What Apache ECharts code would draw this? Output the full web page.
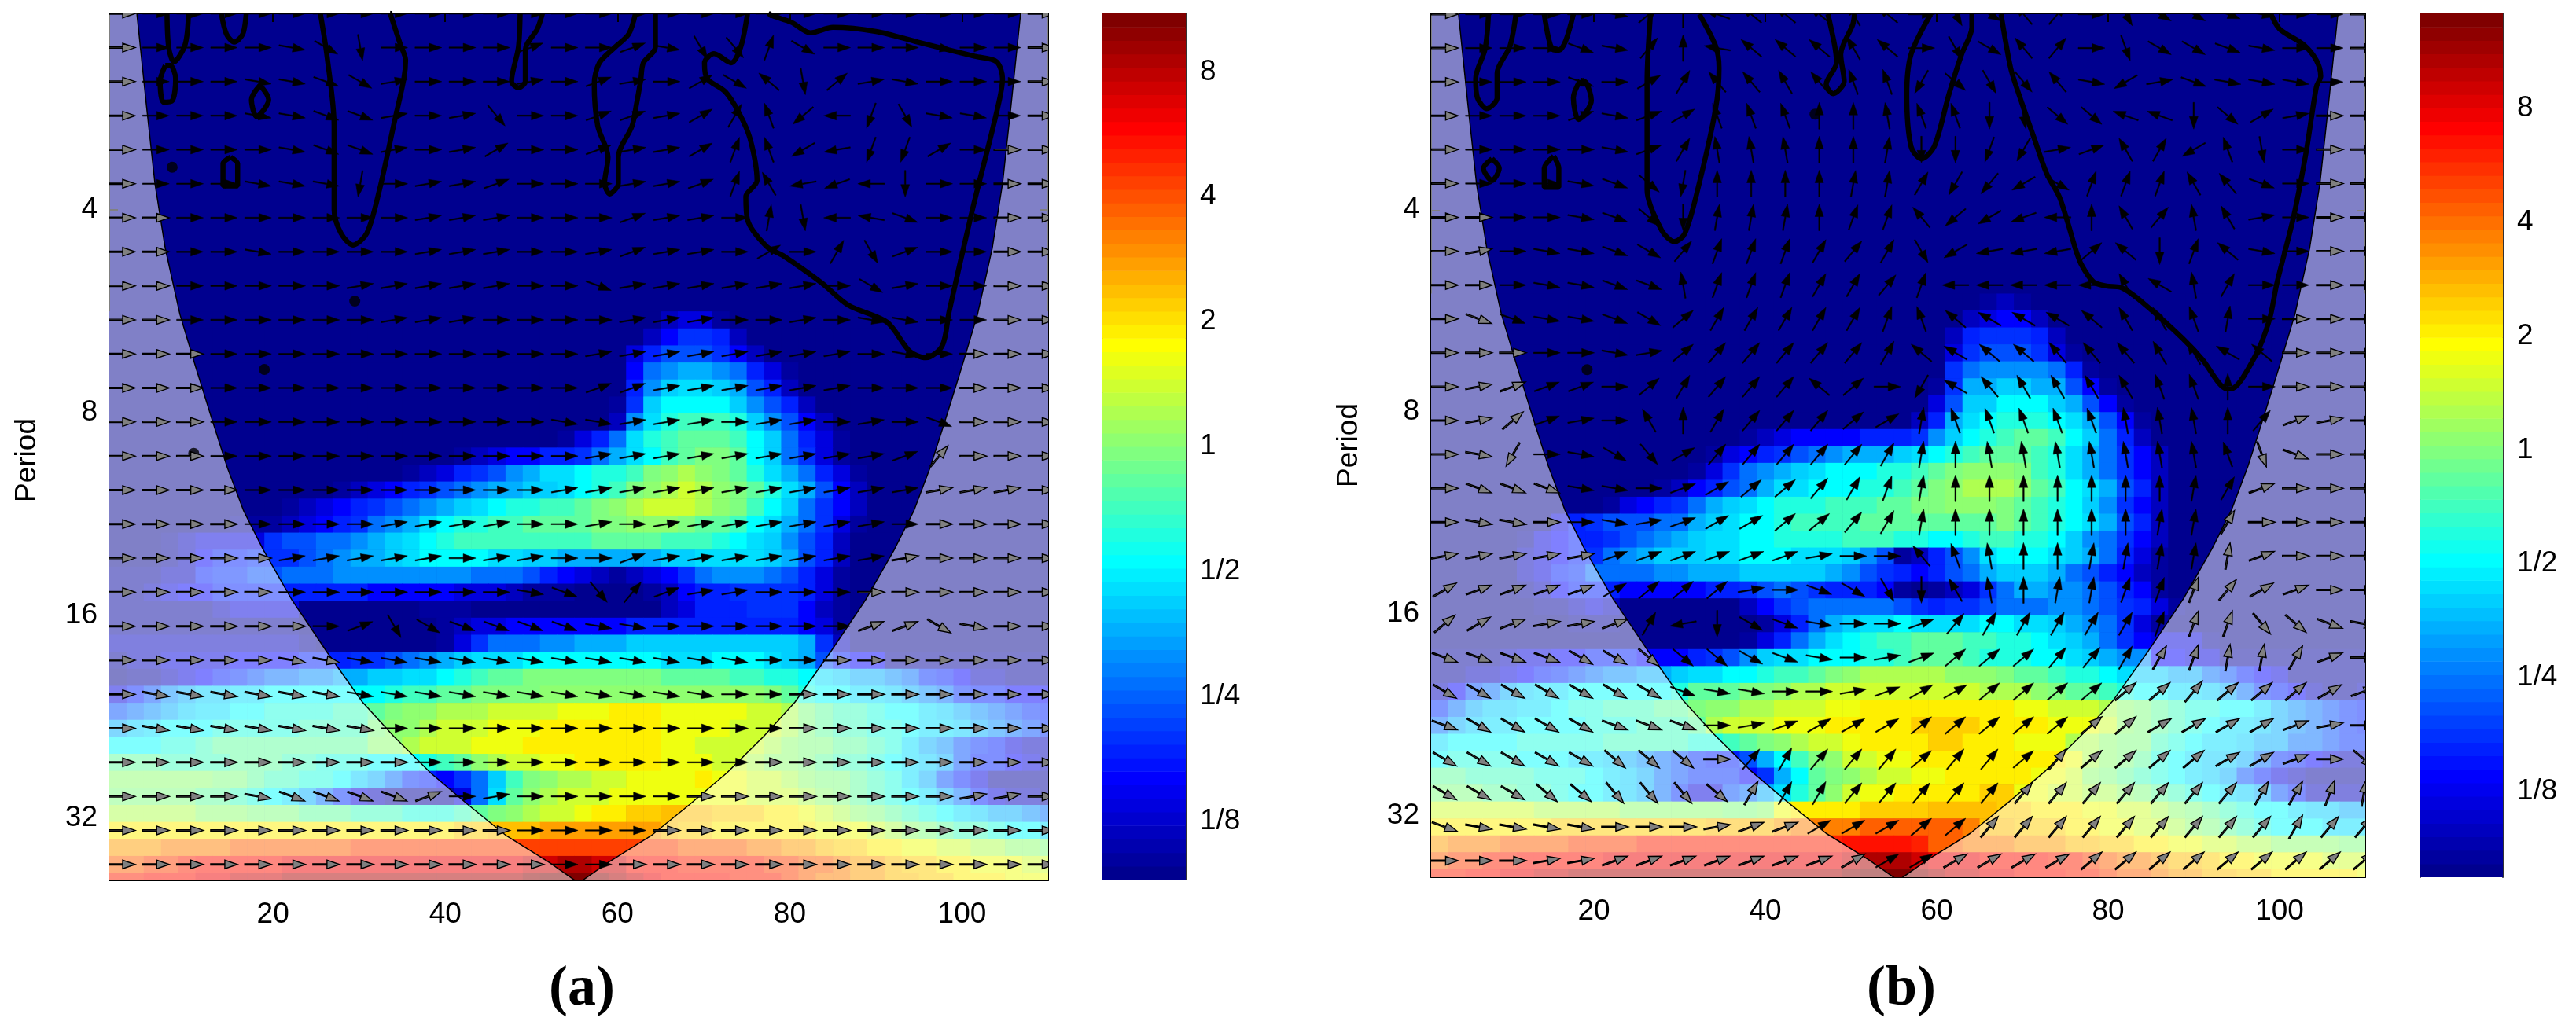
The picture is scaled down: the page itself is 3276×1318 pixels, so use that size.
<!DOCTYPE html>
<html><head><meta charset="utf-8"><style>html,body{margin:0;background:#fff}#c{width:3276px;height:1318px}</style>
<script src="https://cdn.jsdelivr.net/npm/echarts@6/dist/echarts.min.js"></script></head><body><div id="c"></div><script>
// tick labels
var xTicks=[20,40,60,80,100];
var yTickOct=[2,3,4,5], yTickLabels=['4','8','16','32'];
var cbTicks=[3,2,1,0,-1,-2,-3], cbLabels=['8','4','2','1','1/2','1/4','1/8'];
// colour range of each panel (log2 of power)
var rangeA=[-3.468,3.468], rangeB=[-3.75,3.83];
// power, per row, per 2 time units: one char = position on the colour bar in 35ths (0-9a-z)
var heatStartA=18, heatA=[
"00000 00000 00000 00000 00000 00000 00233 10000 00000 00000 00000",
"00000 00000 00000 00000 00000 00000 02466 52000 00000 00000 00000",
"00000 00000 00000 00000 00000 00000 35777 64200 00000 00000 00000",
"00000 00000 00000 00000 00000 00000 489aa 98531 00000 00000 00000",
"00000 00000 00000 00000 00000 00000 59bcc ba752 00000 00000 00000",
"00000 00000 00000 00000 00000 00001 6bddd db975 20000 00000 00000",
"00000 00000 00000 00000 00000 00002 9ceff feb97 42000 00000 00000",
"00000 00000 00000 00000 00000 01358 cefgg gfdb8 53100 00000 00000",
"00000 00000 00000 00000 12344 5568a cdfgh hgdb8 63100 00000 00000",
"00000 00000 00000 00123 5679a ccdee fhiji hgeca 85310 00000 00000",
"00000 00000 00012 34567 89aab bcdef hijkj ihgec a7420 00000 00000",
"00000 00000 12345 6789a bcdee ffghi jkkkj ihfdb 86420 00000 00000",
"00000 00111 23456 89acd eeffg ggghh iiihg gfdca 86310 00000 00000",
"00012 33336 77889 abcde fffff fffgg ggfff edcb9 75200 00000 00000",
"00012 45566 6789a abcdd ddccb baaaa aabbc cccba 75200 00000 00000",
"11122 56677 88899 99999 98887 54321 23468 99987 53100 00000 00000",
"11234 45555 55555 44444 33321 11000 01245 56666 53100 00000 00000",
"11111 12333 30000 00011 10000 00000 00235 55666 42100 00000 00000",
"11111 11111 10000 00001 23344 44444 55555 55555 43100 00000 00000",
"22222 22222 21000 00001 36888 99aaa bbbbb bbbbb a6200 00000 00000",
"12233 33444 45556 6789a bcccd ddddd ddccc dddcb a7544 11111 11111",
"01123 45678 899aa bbccd efggh hhhhh hhggg gffee dcbaa 98654 22111",
"3579a bbccd ddddd deffg ghhhh iiiii iiiii iiihg eddcc ba986 55444",
"789ab ccdde eeeff ghiij jjkkk klllm mmlll llkkj hgffe ddcba 98765",
"abcdd deeee effff hiijk kklll mmmmm mmlll lkkkj hgffe edccb a9876",
"dddee fgggg ggggg iijkk klllm mmmmm mmllk kkkji hhggf eca97 65322",
"gggff ffggg ffeee dddef gijkk llmmm mmlll kkjii hgffe dcba7 55432",
"iiiii ihhgf feedb a8654 68bfh ijjkk llllm llkkj ihhgf eca75 31111",
"hhhhh ggfed ca863 21111 38cgi jkkkl lllll llkkk jihgf edca8 53221",
"jjjjj iiihh hgggf ffeee fghij kklmm nnooo nnnmm lkjih gfedc baa98",
"mmmmm mmmmm mmmmm mmmmm nnooo ppppp pponn mmmmm mlllk jihgf feddc",
"pppqq qqrrr rrrrs sssss sssss sssss sssrr rrqqp ponnm mllkk jjiih",
"rrsst uuuuu vvvvv vvvvv vvvvw wxxww uuutt tttss rrqpp onnmm lllkk",
"ttuuu vvwww xxxxx xxxxx xxxxy zzzyx wvuuu uttts rqqpp oonnm mmlll"];
var heatStartB=17, heatB=[
"00000 00000 00000 00000 00000 00000 00121 00000 00000 00000 00000",
"00000 00000 00000 00000 00000 00000 02344 20000 00000 00000 00000",
"00000 00000 00000 00000 00000 00000 25666 52000 00000 00000 00000",
"00000 00000 00000 00000 00000 00000 36777 63100 00000 00000 00000",
"00000 00000 00000 00000 00000 00000 68999 98510 00000 00000 00000",
"00000 00000 00000 00000 00000 00001 6aabb aa741 00000 00000 00000",
"00000 00000 00000 00000 00000 00003 7bbdd dba74 10000 00000 00000",
"00000 00000 00000 00000 00000 00025 acdee edca7 41000 00000 00000",
"00000 00000 00000 00012 34444 55569 bdefg gfdb8 52000 00000 00000",
"00000 00000 00000 01345 6789a aabcd efggg feca8 64200 00000 00000",
"00000 00000 00000 13689 abcdd deefg hiiih feca8 64200 00000 00000",
"00000 00000 00012 4578a ccddd eefgh ijjji gfdca 75200 00000 00000",
"00000 00000 13456 8abcd eeeff fgghh iiihg fedb9 64200 00000 00000",
"00000 00356 77788 abcdd effff ggggg ggghg fedca 75200 00000 00000",
"00000 13455 6789a bccdd eeeef ffeed deffe edb98 64200 00000 00000",
"00000 23456 89abb bccdd dcccb 97125 79cdd dcba8 53100 00000 00000",
"00000 23568 88899 aaabb bbba9 76545 78abb ba875 42100 00000 00000",
"00000 12455 54444 45567 87655 54101 2368a a9987 54100 00000 00000",
"00000 01123 20000 00024 67888 88765 66788 89987 65310 00000 00000",
"00000 00011 10000 00001 358ab ccdcc ccddc cba98 63100 00000 00000",
"00000 00000 00000 00013 58acd effgg gffee dcba8 64333 10000 00000",
"11112 33445 55444 5679b ccddd eefgg gfeee ddcba 99443 31111 11111",
"11223 45678 99aab ccdde ffghi jjjjj iiihg gfeed cbbaa 87543 11111",
"2478a bccdd dddde ggghh ijjkk kkkkk kkjjj ihggf eddcc ba865 42112",
"68abb ccdee fffgg hiijj kkkll mmmmm mmmml lkkkj ihgfe eddca 98765",
"8abcc dddde eefff gjkkk lllmm mmmnn nnmmm mlllk ihgfe dccba 98765",
"cdddd eeeee fffff eefgh ijkkl mmmmn nmmml lljji hhfed ccbaa 88766",
"deeee dddcc ba987 6557a dfhik kllmm mmmmm mmlji hgedc bba86 54322",
"ggfff feeed cba87 66646 adghi jkkll mmmmm llkih gfedc ba753 21111",
"hhhgg ffedd cba86 3378a cegik llmmm mmnnl lkkjj ihgfe dcba7 52222",
"kkkkk kjjjj jiiii iihhi lmmmm nnnno ooonn mmmll kkjih gfedd cbbaa",
"mmmmm mmnnn nnnnn noooo pqqqq rrrrr rqoon nnmml lkkji hgfed ddccc",
"pqqqr rrrss ssttt ttttt ttttu uuutr rqqqp ppoon nmmll kkjji iiihh",
"rsstt uuuuu vvvvv vvvvv vvvvw xxxwv vvuuu uttsr qqpoo nmmll llkkk",
"ttuuv vwwxx xxxxx xxxxx xxxxy zzzyx wwvvu uutts rrqpp oonnm mmmml"];
// phase arrows: one char per arrow = angle in tens of degrees, counter-clockwise from east (0-9a-z)
var arrowsA=[
"0000 0000 0000 0000 0000 0000 0000","0000 0zxs 0000 2002 zuv7 x000 z000","0000 zzyx 1000 1021 03xe s41z 0000",
"0000 zzyy 101v 0022 136b mipu zz00","0000 0zyy 1013 0021 137b ljpp 3000","0000 zzzq 0112 0001 127c jkir 0000",
"0000 0000 0111 0002 1108 sihy 0000","0000 z000 0111 0012 1103 06u2 0000","0000 0001 1111 00y1 1111 10x1 0000",
"0000 0000 1110 0001 1100 10zz 0000","0000 0000 0000 0011 1111 110z 0000","0000 0000 0000 0022 1111 1100 0000",
"0000 0000 0000 0zz1 1101 1010 y000","0000 0000 0000 0011 1111 1112 5000","0000 0000 0000 0111 1111 1111 1110",
"0000 0000 1111 0010 1111 1110 0000","0000 0111 1101 1002 1111 1111 0000","0000 0000 0000 zyv5 2110 0000 0000",
"0000 0002 uxyy yyzz 0000 0022 xz00","0000 0zzz zzzz zzzz zzz0 0000 0000","0zzz zzzz zzzz zzzz zz00 0000 0000",
"0zzz zzzz 0000 0000 0000 0000 0000","0000 0000 0000 0000 0000 0000 0000","0000 zyyy y201 0000 0000 0000 0110",
"0000 0000 0000 0000 0000 0000 0000","0000 0000 0000 0000 0000 0000 0000"];
var arrowsB=[
"0000 0z49 geee ce0u xd50 uxxy z000","0000 yz59 heee ce0u xd50 txxy z000","0000 y036 ddcd bbow uvdz l1yz zz00",
"0000 2z23 bbb9 9abb rsww ggrw 3100","0000 0z26 aaa9 98rr po12 c6lb s000","0000 zywq 9999 886o nlx7 77cd y000",
"0000 zywr 8889 77dm lki9 c5ac 1000","010z zyx5 7776 56ul jjj4 er7e z000","000z zyya 7776 657i iiii cfa6 0000",
"0yyz zyx4 6666 67be fffe ccb8 0000","0000 0z14 5555 56ef eedd dccf e000","0122 2046 555e 40of dccc cbb9 0000",
"0142 10c9 6555 438b bbbb aaa9 5210","0zo0 zxv3 5555 5689 aaaa aaab ty00","0yyy zz02 3445 6789 9999 9986 2000",
"0zz0 0z12 3344 5689 9999 9886 0000","1111 1222 2221 00db a998 8888 2000","3222 2344 410y xurc a988 7775 3200",
"4321 126j rxyz 0025 6666 6777 vwyz","yyyy xxww wxyz 0124 4455 6678 8620","xxxx xxxy zz00 1233 4444 4454 4432",
"yxxx xyyy 0123 3344 4444 4333 3210","xxxx xwww 0565 5545 5454 4443 320w","xxxw wvvv w666 5555 5555 5555 6678",
"yzzz z000 1223 3344 5555 5555 5655","0001 1222 2222 3333 3334 4444 4444"];
// cone of influence [octave = log2(period)]
var coneOct=[1.03,1.48,1.87,2.19,2.515,2.77,3.03,3.27,3.484,3.678,3.923,4.182,4.427,4.595,4.776,4.931,5.086,5.215,5.31];
var coneLeft=[4.2,5.3,6.3,7.5,9.2,11,12.9,14.7,16.6,18.9,22.2,26.3,30.4,34,38.3,42.6,47.1,52,55.2];
var coneRight=[106.8,105.7,104.7,103.5,101.8,100,98.1,96.3,94.4,92.1,88.8,84.7,80.6,77,72.7,68.4,63.9,59,55.8];
// significance contours [time, octave]
var contoursA=[
[[7.7,1.03],[7.9,1.2],[8.5,1.27],[9.8,1.185],[10.2,1.03]],
[[7.5,1.288],[6.9,1.366],[7.3,1.469],[8.3,1.462],[8.7,1.353],[8.1,1.288],[7.5,1.288]],
[[14,1.03],[14.6,1.133],[15.5,1.172],[16.5,1.133],[16.9,1.03]],
[[18.5,1.385],[17.5,1.456],[18.1,1.54],[19.5,1.456],[18.5,1.385]],
[[15.1,1.74],[14.2,1.773],[14.2,1.882],[15.9,1.882],[15.9,1.773],[15.1,1.74]],
[[25.5,1.03],[26.3,1.249],[27.1,1.585],[27.1,1.999],[27.9,2.115],[29.3,2.173],[30.9,2.115],[32.4,1.895],[34,1.585],[35.2,1.353],[35.4,1.262],[34.8,1.185],[33.6,1.03]],
[[48.7,1.03],[48.5,1.198],[47.7,1.366],[48.5,1.398],[49.3,1.366],[49.3,1.21],[50.7,1.107],[51.3,1.03]],
[[62.1,1.03],[61.3,1.133],[59.7,1.198],[57.9,1.275],[57.3,1.378],[57.7,1.585],[58.9,1.74],[58.5,1.869],[59.1,1.921],[60.1,1.869],[60.1,1.74],[61.7,1.585],[62.2,1.48],[62.7,1.36],[63,1.275],[64.4,1.198],[64.4,1.03]],
[[75.1,1.03],[74.3,1.198],[73.2,1.275],[71.2,1.23],[70.1,1.275],[70.4,1.353],[72.5,1.417],[74.1,1.521],[75.4,1.65],[76.2,1.856],[74.9,1.934],[75.1,2.05],[77.3,2.18],[79.2,2.225],[83.7,2.36],[86.8,2.47],[91.3,2.554],[93.9,2.696],[95.8,2.729],[97.7,2.67],[98.5,2.502],[101.2,2],[104,1.521],[104.7,1.353],[104,1.269],[101.5,1.243],[94.8,1.172],[90,1.12],[85,1.1],[82.4,1.127],[80.2,1.075],[78,1.043],[77.5,1.03]]];
var contoursB=[
[[7.7,1.03],[7.3,1.202],[6.2,1.35],[6.4,1.444],[7.5,1.498],[8.7,1.444],[8.7,1.323],[10.2,1.188],[10.9,1.03]],
[[14.2,1.03],[15.1,1.202],[15.9,1.209],[16.7,1.162],[17.6,1.03]],
[[18.4,1.357],[17.6,1.444],[18.2,1.551],[19.7,1.457],[19.1,1.37],[18.4,1.357]],
[[8.1,1.746],[7.1,1.793],[8.1,1.854],[8.95,1.793],[8.1,1.746]],
[[15.3,1.733],[14.2,1.793],[14.2,1.887],[15.9,1.887],[15.9,1.793],[15.3,1.733]],
[[26.6,1.03],[26.2,1.363],[26.2,1.766],[26.2,1.9],[27.9,2.1],[29.4,2.156],[30.6,2.116],[32.1,1.9],[34.2,1.498],[34.6,1.296],[34.2,1.188],[32.3,1.03]],
[[47.3,1.03],[48.1,1.188],[48.3,1.269],[47.1,1.377],[47.9,1.424],[49.2,1.363],[48.8,1.229],[50.2,1.081],[50.4,1.03]],
[[59.3,1.03],[57,1.229],[56.5,1.43],[57,1.686],[58.2,1.746],[59.7,1.686],[61.4,1.43],[62.9,1.229],[64.1,1.094],[64.1,1.03]],
[[67.5,1.03],[68.1,1.181],[68.7,1.31],[69.9,1.466],[71.4,1.648],[72.8,1.817],[74.3,1.934],[75.3,2.064],[76.2,2.194],[76.9,2.272],[78.3,2.356],[79.8,2.376],[81.4,2.382],[85,2.493],[88.7,2.636],[91,2.74],[93.6,2.882],[94.3,2.885],[97.1,2.727],[98.8,2.545],[99.7,2.36],[101.6,2.04],[103.1,1.713],[104.3,1.389],[104.8,1.337],[104.3,1.259],[102.8,1.181],[100,1.103],[99,1.03]]];
var dotsA=[[8.3,1.79],[29.5,2.45],[19,2.787],[10.8,3.2]];
var dotsB=[[45.8,1.525],[19.2,2.79]];

var idxOf=function(c){return parseInt(c,36);};
function jet(k){var p=(k+1)/64,f=function(v){v=Math.max(0,Math.min(1,1.5-Math.abs(4*p-v)));return Math.round(v*255);};return 'rgb('+f(3)+','+f(2)+','+f(1)+')';}
function colourOf(v,r){return jet(Math.min(63,Math.floor((v-r[0])/(r[1]-r[0])*64)));}
function heatData(rows,start,rowBase,rowStep,r){var out=[];rows.forEach(function(s,j){s=s.replace(/ /g,'');for(var i=0;i<s.length;i++){out.push([2*(i+1),rowBase+rowStep*(start+j),r[0]+idxOf(s[i])/35*(r[1]-r[0])]);}});return out;}
function coneT(arr,o){for(var i=1;i<coneOct.length;i++){if(o<=coneOct[i]){var f=(o-coneOct[i-1])/(coneOct[i]-coneOct[i-1]);return arr[i-1]+Math.max(f,0)*(arr[i]-arr[i-1]);}}return arr[arr.length-1];}
function arrowData(rows,cs,cst,rb,rs){var out=[];rows.forEach(function(s,k){s=s.replace(/ /g,'');for(var i=0;i<s.length;i++){var t=cs+cst*i,o=rb+rs*k,ins=(t>coneT(coneLeft,o)&&t<coneT(coneRight,o))?1:0;out.push([t,o,idxOf(s[i])*10,ins]);}});return out;}

var series=[];
function heatSeries(data,r,xi,yi,step){return {type:'custom',xAxisIndex:xi,yAxisIndex:yi,clip:true,silent:true,z:1,data:data,encode:{x:0,y:1},renderItem:function(p,api){
  var a=api.coord([api.value(0)-1,api.value(1)-step/2]),b=api.coord([api.value(0)+1,api.value(1)+step/2]);
  return {type:'rect',shape:{x:a[0],y:a[1],width:b[0]-a[0]+0.6,height:b[1]-a[1]+0.6},style:{fill:colourOf(api.value(2),r)}};}};}
function maskSeries(tArr,edge,xi,yi){return {type:'custom',xAxisIndex:xi,yAxisIndex:yi,clip:true,silent:true,z:2,data:[[edge,1]],encode:{x:0,y:1},renderItem:function(p,api){
  var pts=[api.coord([edge,1]),api.coord([tArr[0],1])];
  for(var i=0;i<tArr.length;i++)pts.push(api.coord([tArr[i],coneOct[i]]));
  pts.push(api.coord([tArr[tArr.length-1],5.4]));pts.push(api.coord([edge,5.4]));
  return {type:'polygon',shape:{points:pts},style:{fill:'rgba(255,255,255,0.5)',stroke:null}};}};}
function lineSeries(pts,w,xi,yi,z,smooth){return {type:'line',xAxisIndex:xi,yAxisIndex:yi,data:pts,symbol:'none',smooth:smooth,silent:true,z:z,clip:true,lineStyle:{color:'#000',width:w}};}
function arrowSeries(data,xi,yi){return {type:'custom',xAxisIndex:xi,yAxisIndex:yi,clip:true,silent:true,z:5,data:data,encode:{x:0,y:1},renderItem:function(p,api){
  var c=api.coord([api.value(0),api.value(1)]),a=api.value(2)*Math.PI/180,ins=api.value(3);
  var sh=[[-17,-0.8],[1,-0.8],[1,-5.5],[17,0],[1,5.5],[1,0.8],[-17,0.8]];
  var pts=sh.map(function(q){return [c[0]+q[0]*Math.cos(a)+q[1]*Math.sin(a),c[1]-q[0]*Math.sin(a)+q[1]*Math.cos(a)];});
  return {type:'polygon',shape:{points:pts},style:{fill:ins?'#000':'#808080',stroke:'#000',lineWidth:ins?0.5:1.4}};}};}
function cbSeries(r,xi,yi){var d=[];for(var k=0;k<64;k++)d.push([0.5,k]);return {type:'custom',xAxisIndex:xi,yAxisIndex:yi,clip:true,silent:true,data:d,encode:{x:0},renderItem:function(p,api){
  var k=api.value(1),lo=r[0]+k/64*(r[1]-r[0]),hi=r[0]+(k+1)/64*(r[1]-r[0]);
  var a=api.coord([0,hi]),b=api.coord([1,lo]);
  return {type:'rect',shape:{x:a[0],y:a[1],width:b[0]-a[0],height:b[1]-a[1]+0.6},style:{fill:jet(k)}};}};}
function panel(h,start,rowBase,rowStep,r,arr,cs,cst,cont,dots,xi,yi){
  series.push(heatSeries(heatData(h,start,rowBase,rowStep,r),r,xi,yi,rowStep));
  series.push(maskSeries(coneLeft,1,xi,yi));series.push(maskSeries(coneRight,110,xi,yi));
  series.push(lineSeries(coneOct.map(function(o,i){return [coneLeft[i],o];}),1.5,xi,yi,3,false));
  series.push(lineSeries(coneOct.map(function(o,i){return [coneRight[i],o];}),1.5,xi,yi,3,false));
  cont.forEach(function(c){series.push(lineSeries(c,6.5,xi,yi,4,0.3));});
  series.push({type:'scatter',xAxisIndex:xi,yAxisIndex:yi,data:dots,symbol:'circle',symbolSize:14,itemStyle:{color:'#000'},silent:true,z:4});
  series.push(arrowSeries(arrowData(arr,cs,cst,rowBase,rowStep*2),xi,yi));
}
panel(heatA,heatStartA,1.032,0.08391,rangeA,arrowsA,2.46,3.954,contoursA,dotsA,0,0);
panel(heatB,heatStartB,1.030,0.08383,rangeB,arrowsB,2.6,3.972,contoursB,dotsB,2,2);
series.push(cbSeries(rangeA,4,4));series.push(cbSeries(rangeB,5,6));

var font='Liberation Sans', fs=37;
var line={show:true,onZero:false,lineStyle:{color:'#000',width:2}};
var tick=function(vals,len){return {show:true,inside:true,length:len,customValues:vals,lineStyle:{color:'#000',width:2}};};
function xMain(g,show){return {type:'value',gridIndex:g,min:1,max:110,position:show?'bottom':'top',axisLine:line,axisTick:tick(xTicks,11),splitLine:{show:false},
  axisLabel:show?{show:true,customValues:xTicks,margin:25,fontFamily:font,fontSize:fs,color:'#000'}:{show:false}};}
function yMain(g,show,lo,hi,name,namePad){return {type:'value',gridIndex:g,inverse:true,min:lo,max:hi,position:show?'left':'right',axisLine:line,axisTick:tick(yTickOct,11),splitLine:{show:false},
  name:show?name:'',nameLocation:'middle',nameGap:86,nameTextStyle:{fontFamily:font,fontSize:fs,color:'#000',padding:namePad||0},
  axisLabel:show?{show:true,customValues:yTickOct,margin:15,padding:[12,0,0,0],fontFamily:font,fontSize:fs,color:'#000',formatter:function(v){return yTickLabels[yTickOct.indexOf(v)];}}:{show:false}};}
function xCb(g){return {type:'value',gridIndex:g,min:0,max:1,show:true,axisLine:{show:true,lineStyle:{color:'#333',width:2}},axisTick:{show:false},axisLabel:{show:false},splitLine:{show:false}};}
function yCb(g,r,show){return {type:'value',gridIndex:g,min:r[0],max:r[1],position:show?'right':'left',axisLine:{show:true,onZero:false,lineStyle:{color:'#333',width:2}},axisTick:tick(cbTicks,9),splitLine:{show:false},
  axisLabel:show?{show:true,customValues:cbTicks,margin:18,padding:[8,0,0,0],fontFamily:font,fontSize:fs,color:'#000',formatter:function(v){return cbLabels[cbTicks.indexOf(v)];}}:{show:false}};}
var capRich={p:{fontFamily:'Liberation Serif',fontSize:72,color:'#000'},b:{fontFamily:'Liberation Serif',fontSize:72,fontWeight:'bold',color:'#000'}};
var option={animation:false,backgroundColor:'#fff',
 title:[{text:'{p|(}{b|a}{p|)}',left:735,top:1218,textAlign:'center',textStyle:{rich:capRich}},{text:'{p|(}{b|b}{p|)}',left:2413,top:1218,textAlign:'center',textStyle:{rich:capRich}}],
 grid:[
  {left:139,top:17,width:1194,height:1103,show:true,backgroundColor:'#00008f',borderWidth:0},
  {left:1820,top:17,width:1188,height:1099,show:true,backgroundColor:'#00008f',borderWidth:0},
  {left:1402,top:17,width:106,height:1102},
  {left:3078,top:17,width:105,height:1099}],
 xAxis:[xMain(0,true),xMain(0,false),xMain(1,true),xMain(1,false),xCb(2),xCb(3)],
 yAxis:[yMain(0,true,1.031,5.306,'Period',[0,34,0,0]),yMain(0,false,1.031,5.306),yMain(1,true,1.026,5.303,'Period',0),yMain(1,false,1.026,5.303),yCb(2,rangeA,false),yCb(2,rangeA,true),yCb(3,rangeB,false),yCb(3,rangeB,true)],
 series:series};
echarts.init(document.getElementById('c'),null,{renderer:'canvas'}).setOption(option);
</script></body></html>
